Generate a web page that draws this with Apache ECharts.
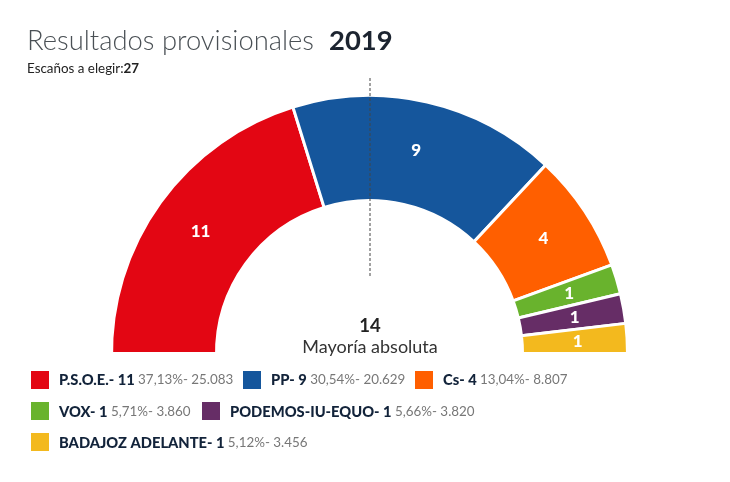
<!DOCTYPE html>
<html lang="es">
<head>
	<meta charset="UTF-8">
	<title>Resultados provisionales 2019</title>
	<style type="text/css">
	body,html{
		width: 100%;
		height: 100%;
		margin: 0;
		padding: 0;
		background: #fff;
	}
	#container{
		width: 730px;
		height: 482px;
	}
	</style>
</head>
<body>
<div id="container"></div>
<script src="https://cdn.jsdelivr.net/npm/echarts@6/dist/echarts.min.js"></script>
<script type="text/javascript">
	var parties = ['P.S.O.E.', 'PP', 'Cs', 'VOX', 'PODEMOS-IU-EQUO', 'BADAJOZ ADELANTE'];
	var seats = [11, 9, 4, 1, 1, 1];
	var percents = ['37,13%', '30,54%', '13,04%', '5,71%', '5,66%', '5,12%'];
	var votes = ['25.083', '20.629', '8.807', '3.860', '3.820', '3.456'];
	var colors = ['#e30613', '#15569c', '#ff5f00', '#69b32d', '#662d66', '#f3b91e'];
	var legendX = [31, 243, 415, 31, 202, 31];
	var legendY = [380, 380, 380, 411, 411, 442];

	var font = 'Lato';

	var pieData = parties.map(function (name, i) {
		return {
			name: name,
			value: seats[i],
			itemStyle: { color: colors[i] }
		};
	});

	var legendItems = [];
	parties.forEach(function (name, i) {
		legendItems.push({
			type: 'rect',
			shape: { x: legendX[i], y: legendY[i] - 9, width: 18, height: 18 },
			style: { fill: colors[i] }
		});
		legendItems.push({
			type: 'text',
			x: legendX[i] + 28,
			y: legendY[i] + (i > 2 ? 1 : 0),
			style: {
				text: '{b|' + name + '- ' + seats[i] + '} {s|' + percents[i] + '- ' + votes[i] + '}',
				verticalAlign: 'middle',
				rich: {
					b: { font: '900 14.7px ' + font, fill: '#12233a' },
					s: { font: '13.4px ' + font, fill: '#777' }
				}
			}
		});
	});

	var option = {
		backgroundColor: '#fff',
		animation: false,
		textStyle: { fontFamily: font },
		title: [{
			text: 'Resultados provisionales',
			left: 27,
			top: 28,
			padding: 0,
			textStyle: { fontFamily: font, fontSize: 27.4, color: '#4a5055', fontWeight: 300 }
		}, {
			text: '2019',
			left: 329,
			top: 28,
			padding: 0,
			textStyle: { fontFamily: font, fontSize: 27.4, color: '#1c2430', fontWeight: 'bold' }
		}, {
			text: 'Escaños a elegir:{b|27}',
			left: 27,
			top: 62,
			padding: 0,
			textStyle: {
				fontFamily: font,
				fontSize: 13.4,
				fontWeight: 'normal',
				color: '#222',
				rich: {
					b: { fontFamily: font, fontSize: 13.4, fontWeight: 'bold', color: '#222' }
				}
			}
		}, {
			text: '14',
			left: 370,
			top: 317,
			padding: 0,
			textAlign: 'center',
			textStyle: { fontFamily: font, fontSize: 18.5, fontWeight: 'bold', color: '#222' }
		}, {
			text: 'Mayoría absoluta',
			left: 370,
			top: 338,
			padding: 0,
			textAlign: 'center',
			textStyle: { fontFamily: font, fontSize: 18, fontWeight: 'normal', color: '#333' }
		}],
		series: [{
			type: 'pie',
			center: [369.5, 353.5],
			radius: [153, 258],
			// one degree past the horizontal, the white rect below trims it flat
			startAngle: 181,
			endAngle: 0,
			silent: true,
			itemStyle: { borderColor: '#fff', borderWidth: 3 },
			label: {
				show: true,
				position: 'inside',
				formatter: '{c}',
				fontFamily: font,
				fontSize: 17,
				fontWeight: 900,
				color: '#fff'
			},
			labelLine: { show: false },
			data: pieData
		}],
		graphic: legendItems.concat([{
			type: 'rect',
			shape: { x: 100, y: 352, width: 125, height: 10 },
			style: { fill: '#fff' },
			z: 100
		}, {
			type: 'line',
			shape: { x1: 370, y1: 78, x2: 370, y2: 276 },
			style: { stroke: '#444', lineWidth: 1, lineDash: [3, 2] },
			z: 100
		}])
	};

	var container = echarts.init(document.getElementById('container'));
	container.setOption(option);
</script>
</body>
</html>
